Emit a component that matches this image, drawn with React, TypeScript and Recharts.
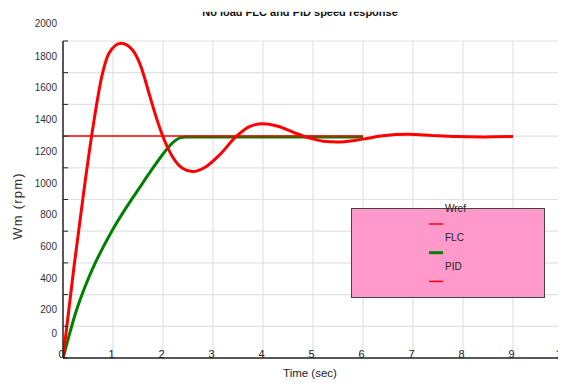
import React from 'react';
import {
  LineChart, Line, XAxis, YAxis, CartesianGrid, Legend, Customized,
} from 'recharts';

const xTicks = [0, 1, 2, 3, 4, 5, 6, 7, 8, 9, 10];
const xTopTicks = [1, 2, 3, 4, 5, 6, 7, 8, 9];
const yTicks = [0, 200, 400, 600, 800, 1000, 1200, 1400, 1600, 1800, 2000];

const flcTime = [0, 0.22, 0.42, 0.57, 0.79, 0.92, 1.16, 1.39, 1.56, 1.72, 1.86, 2.0, 2.19, 2.39, 2.59, 2.86, 3.13, 3.46, 3.73, 4.0, 4.3, 4.6, 4.9, 5.2, 5.5, 5.8, 6.1, 6.4, 6.9, 7.4, 7.87, 8.4, 9.0];
const flcSpeed = [0, 576, 1060, 1396, 1796, 1923, 1986, 1943, 1838, 1670, 1523, 1396, 1270, 1197, 1176, 1207, 1281, 1396, 1460, 1478, 1462, 1425, 1390, 1368, 1363, 1371, 1387, 1402, 1411, 1403, 1397, 1395, 1397];

const pidTime = [0, 0.12, 0.25, 0.39, 0.52, 0.655, 0.79, 0.99, 1.2, 1.4, 1.6, 1.8, 2.0, 2.2, 2.35, 2.45, 6.0];
const pidSpeed = [0, 140, 282, 408, 511, 606, 692, 808, 917, 1013, 1107, 1199, 1287, 1360, 1390, 1395, 1395];

const wrefTime = [0, 6];
const wrefSpeed = [1400, 1400];

const legendLabels = ['Wref', 'FLC', 'PID'];
const legendSwatchColors = ['#ff0000', '#008000', '#ff0000'];
const legendSwatchWidths = [1.5, 3, 1.5];

const toRows = (ts: number[], vs: number[]) => ts.map((t, i) => ({ t, v: vs[i] }));
const flcData = toRows(flcTime, flcSpeed);
const pidData = toRows(pidTime, pidSpeed);
const wrefData = toRows(wrefTime, wrefSpeed);

const FONT = "'Liberation Sans', Arial, sans-serif";
const AX = '#262626';

const YTick = (props: any) => {
  const { x, y, payload } = props;
  const v = payload.value;
  const off = v === 0 ? -25 : v === 2000 ? -18 : -16.5;
  return (
    <g>
      <line x1={x} x2={x + 5} y1={y} y2={y} stroke={AX} strokeWidth={1} />
      <text x={x - 6} y={y + off} dy="0.35em" textAnchor="end" fontSize={10} fontFamily={FONT} fill="#333">{v}</text>
    </g>
  );
};

const XTick = (props: any) => {
  const { x, y, payload } = props;
  return (
    <text x={x - 1.5} y={y - 0.5} textAnchor="middle" fontSize={11} fontFamily={FONT} fill="#222">{payload.value}</text>
  );
};

const TopTick = (props: any) => {
  const { x, y } = props;
  return <line x1={x} x2={x} y1={y} y2={y + 6} stroke={AX} strokeWidth={1} />;
};

const YLabel = () => {
  const cx = 9;
  const cy = 198;
  return (
    <text x={cx} y={cy} transform={`rotate(-90 ${cx} ${cy})`} textAnchor="middle" dominantBaseline="central"
      fontSize={13} letterSpacing={1.2} fontFamily={FONT} fill="#333">Wm (rpm)</text>
  );
};

const XLabel = () => (
  <text x={302} y={369} textAnchor="middle" fontSize={11.5} fontFamily={FONT} fill="#222">Time (sec)</text>
);

const Title = () => (
  <g>
    <defs>
      <clipPath id="titleClip">
        <rect x={0} y={3.7} width={558} height={30} />
      </clipPath>
    </defs>
    <text x={292} y={8.2} textAnchor="middle" fontSize={11} fontWeight="bold" fontFamily={FONT} fill="#111" clipPath="url(#titleClip)">
      No load FLC and PID speed response
    </text>
  </g>
);

const LegendBox = () => (
  <svg width={194} height={92} style={{ overflow: 'visible', display: 'block' }}>
    <rect x={0.5} y={0.5} width={193} height={89} fill="#ff99cc" stroke="#444" strokeWidth={1} />
    {legendLabels.map((lab, i) => (
      <text key={lab} x={94} y={29 * i} dy="0.35em" fontSize={10} fontFamily={FONT} fill="#222">{lab}</text>
    ))}
    {legendSwatchColors.map((c, i) => (
      <line key={i} x1={78} x2={92} y1={16 + 28.7 * i} y2={16 + 28.7 * i} stroke={c} strokeWidth={legendSwatchWidths[i]} />
    ))}
  </svg>
);

export default function App() {
  return (
    <LineChart width={558} height={375} margin={{ top: 33, right: 0, bottom: 0, left: 0 }}>
      <CartesianGrid stroke="#e2e2e2" strokeWidth={1.2} />
      <XAxis
        dataKey="t" type="number" domain={[0, 10]} ticks={xTicks} allowDataOverflow
        height={25} tickSize={0} tickMargin={0} tickLine={false}
        axisLine={{ stroke: AX, strokeWidth: 1.5 }} tick={<XTick />} interval={0}
        label={<XLabel />}
      />
      <XAxis
        xAxisId="top" orientation="top" dataKey="t" type="number" domain={[0, 10]} ticks={xTopTicks}
        height={0} tickSize={0} tickMargin={0} tickLine={false} axisLine={{ stroke: AX, strokeWidth: 1.5 }}
        tick={<TopTick />} interval={0}
      />
      <YAxis
        type="number" domain={[0, 2000]} ticks={yTicks} width={55} tickSize={0} tickMargin={0}
        tickLine={false} axisLine={{ stroke: AX, strokeWidth: 1.5 }} tick={<YTick />} interval={0}
        label={<YLabel />}
      />
      <YAxis
        yAxisId="right" orientation="right" type="number" domain={[0, 2000]} width={3}
        tick={false} tickLine={false} axisLine={{ stroke: AX, strokeWidth: 1.5 }}
      />
      <Legend
        layout="horizontal" verticalAlign="middle" align="center"
        wrapperStyle={{ left: 343, top: 200, width: 194, height: 92 }}
        content={() => <LegendBox />}
      />
      <Line data={pidData} dataKey="v" name="PID" type="monotone" stroke="#008000" strokeWidth={3} dot={false} isAnimationActive={false} />
      <Line data={wrefData} dataKey="v" name="Wref" type="linear" stroke="#ff0000" strokeWidth={1.5} dot={false} isAnimationActive={false} />
      <Line data={flcData} dataKey="v" name="FLC" type="monotone" stroke="#ff0000" strokeWidth={3} dot={false} isAnimationActive={false} />
      <Customized component={Title} />
    </LineChart>
  );
}
